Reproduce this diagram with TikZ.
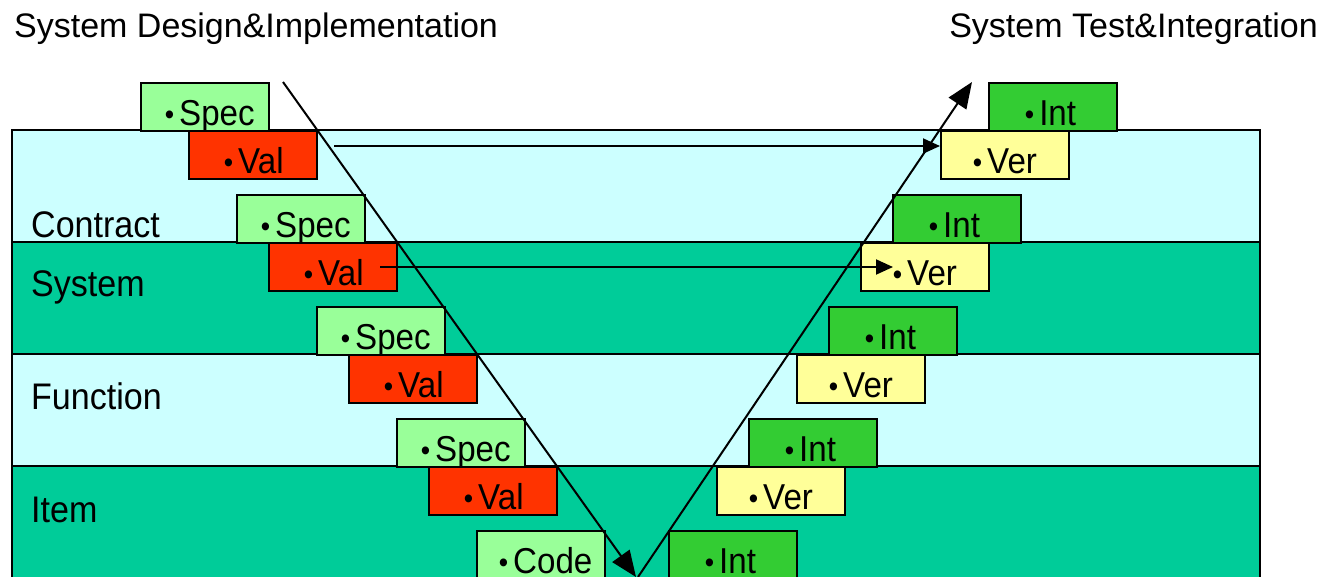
\documentclass[tikz,border=0pt]{standalone}
\usepackage{fontspec}
\setmainfont[FakeStretch=0.92]{Liberation Sans}
\newfontfamily\titlefont{Liberation Sans}
\usetikzlibrary{arrows.meta}
\definecolor{lightband}{HTML}{CCFFFF}
\definecolor{darkband}{HTML}{00CC99}
\definecolor{specc}{HTML}{99FF99}
\definecolor{valc}{HTML}{FF3300}
\definecolor{intc}{HTML}{33CC33}
\definecolor{verc}{HTML}{FFFF99}
\newcommand{\bsz}{\fontsize{29}{29}\selectfont}
\begin{document}
\begin{tikzpicture}[x=1pt,y=-1pt,
  band/.style={draw=black, line width=2pt},
  bandlabel/.style={anchor=base west, inner sep=0pt, font=\fontsize{37}{37}\selectfont},
  titletext/.style={inner sep=0pt, font=\titlefont\fontsize{34}{34}\selectfont},
  tag/.style={draw=black, line width=1.8pt, anchor=north west, minimum width=128pt,
    minimum height=48pt, inner sep=0pt, text width=128pt, align=left,
    text height=38pt, text depth=0pt, font=\fontsize{36}{36}\selectfont},
  indent/.style={execute at begin node={\hspace*{#1}}},
  specbox/.style={tag, fill=specc, indent=24pt},
  codebox/.style={tag, fill=specc, indent=22pt},
  valbox/.style={tag, fill=valc, indent=35pt},
  intbox/.style={tag, fill=intc, indent=36pt},
  verbox/.style={tag, fill=verc, indent=32pt},
  flow/.style={line width=2pt},
  bigarrow/.style={flow, -{Triangle[length=26pt,width=21pt]}},
  smallarrow/.style={flow, -{Triangle[length=17pt,width=15pt]}}
]
\useasboundingbox (0,0) rectangle (1326,576);
\clip (0,0) rectangle (1326,576);

% bands
\path[band, fill=lightband] (12,130) rectangle (1260,242);
\path[band, fill=darkband] (12,242) rectangle (1260,354);
\path[band, fill=lightband] (12,354) rectangle (1260,466);
\path[band, fill=darkband] (12,466) rectangle (1260,600);

\node[bandlabel] (lc) at (31,237) {Contract};
\node[bandlabel] (ls) at (31,296) {System};
\node[bandlabel] (lf) at (31,409) {Function};
\node[bandlabel] (li) at (31,522) {Item};

% titles
\node[titletext, anchor=base west] (tl) at (14,37) {System Design\&Implementation};
\node[titletext, anchor=base east] (tr) at (1318,37) {System Test\&Integration};

% left side boxes
\node[specbox] (spec1) at (140,82) {\raisebox{1.5pt}{\bsz •}\kern5pt Spec};
\node[valbox]  (val1)  at (188,130) {\raisebox{1.5pt}{\bsz •}\kern5pt Val};
\node[specbox] (spec2) at (236,194) {\raisebox{1.5pt}{\bsz •}\kern5pt Spec};
\node[valbox]  (val2)  at (268,242) {\raisebox{1.5pt}{\bsz •}\kern5pt Val};
\node[specbox] (spec3) at (316,306) {\raisebox{1.5pt}{\bsz •}\kern5pt Spec};
\node[valbox]  (val3)  at (348,354) {\raisebox{1.5pt}{\bsz •}\kern5pt Val};
\node[specbox] (spec4) at (396,418) {\raisebox{1.5pt}{\bsz •}\kern5pt Spec};
\node[valbox]  (val4)  at (428,466) {\raisebox{1.5pt}{\bsz •}\kern5pt Val};
\node[codebox] (code)  at (476,530) {\raisebox{1.5pt}{\bsz •}\kern5pt Code};

% right side boxes
\node[intbox] (int1) at (988,82) {\raisebox{1.5pt}{\bsz •}\kern5pt Int};
\node[verbox] (ver1) at (940,130) {\raisebox{1.5pt}{\bsz •}\kern5pt Ver};
\node[intbox] (int2) at (892,194) {\raisebox{1.5pt}{\bsz •}\kern5pt Int};
\node[verbox] (ver2) at (860,242) {\raisebox{1.5pt}{\bsz •}\kern5pt Ver};
\node[intbox] (int3) at (828,306) {\raisebox{1.5pt}{\bsz •}\kern5pt Int};
\node[verbox] (ver3) at (796,354) {\raisebox{1.5pt}{\bsz •}\kern5pt Ver};
\node[intbox] (int4) at (748,418) {\raisebox{1.5pt}{\bsz •}\kern5pt Int};
\node[verbox] (ver4) at (716,466) {\raisebox{1.5pt}{\bsz •}\kern5pt Ver};
\node[intbox] (int5) at (668,530) {\raisebox{1.5pt}{\bsz •}\kern5pt Int};

% V arrows
\coordinate (vtop) at (283,82);
\coordinate (vbot) at (636,577);
\coordinate (vbot2) at (638,577);
\coordinate (vtip) at (972,82);
\draw[bigarrow] (vtop) -- (vbot);
\draw[bigarrow] (vbot2) -- (vtip);

% horizontal arrows
\coordinate (h1s) at (334,146);
\draw[smallarrow] (h1s) -- (h1s -| ver1.west);
\coordinate (h2s) at (380,267);
\coordinate (h2e) at (893,267);
\draw[smallarrow] (h2s) -- (h2e);
\end{tikzpicture}
\end{document}
